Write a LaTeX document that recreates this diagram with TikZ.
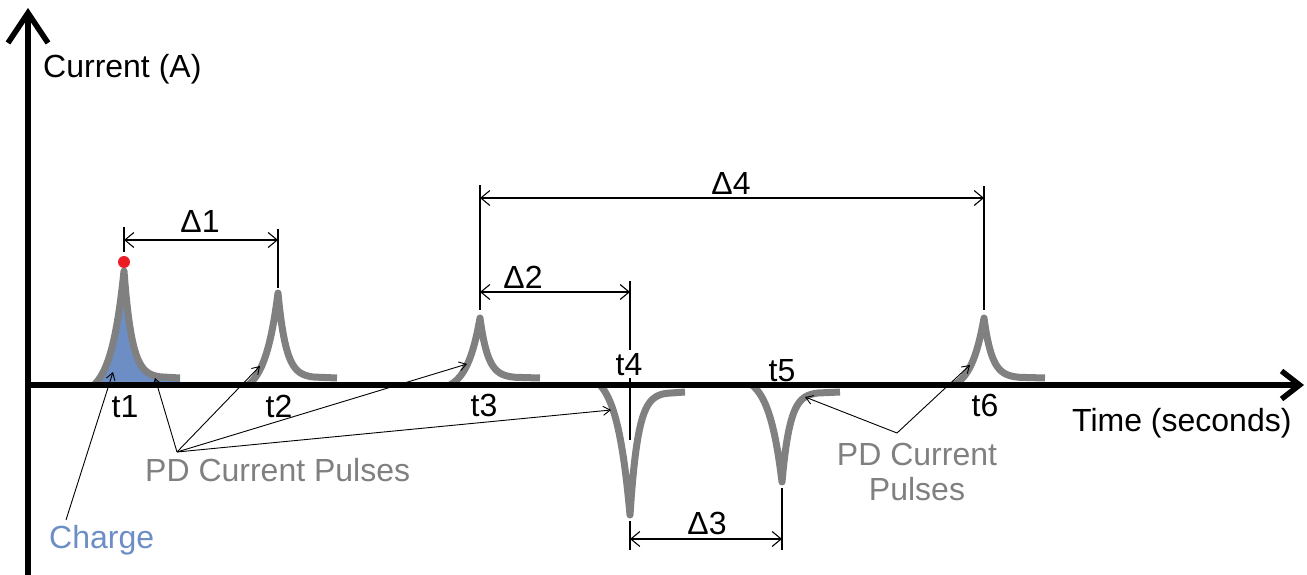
\documentclass[tikz,border=0pt]{standalone}
\usepackage{fontspec}
\setmainfont{Liberation Sans}
\usetikzlibrary{arrows.meta}

\definecolor{pulsegray}{RGB}{128,128,128}
\definecolor{labelgray}{RGB}{128,128,128}
\definecolor{chargeblue}{RGB}{108,142,196}
\definecolor{peakred}{RGB}{236,28,36}

% One current pulse on the time axis (baseline y = 385):
% #1 = time position, #2 = height, #3 = +1 up / -1 down, #4 = tail length
\newcommand\pulsepath[4]{%
  plot[domain=-30:0,samples=41,smooth] ({#1+\x},{385-(#3)*(#2)*(exp(\x/13)-0.0995)/0.9005})
  -- plot[domain=0:36,samples=41,smooth] ({#1+\x},{385-(#3)*(7+((#2)-7)*exp(-\x/8))})
  -- ({#1+#4},{385-(#3)*7})}

\tikzset{
  lbl/.style={inner sep=0pt, font=\fontsize{32}{38}\selectfont},
  graylbl/.style={lbl, text=labelgray},
  pulse/.style={draw=pulsegray, line width=7pt, line join=round, line cap=butt},
  axisline/.style={draw=black, line width=5.5pt},
  extline/.style={draw=black, line width=1.1pt},
  dimline/.style={draw=black, line width=1.1pt,
    {Straight Barb[length=9pt,width=15pt]}-{Straight Barb[length=9pt,width=15pt]}},
  pointer/.style={draw=black, line width=0.9pt, -{Straight Barb[length=7pt,width=9pt]}},
}

\begin{document}
\begin{tikzpicture}[x=1pt,y=-1pt]
\useasboundingbox (0,0) rectangle (1307,575);

% ---- charge area under the first pulse
\fill[chargeblue] \pulsepath{124}{114}{1}{56} -- (180,385) -- (94,385) -- cycle;

% ---- PD current pulses
\path[pulse] \pulsepath{124}{114}{1}{56};
\path[pulse] \pulsepath{278}{92}{1}{59};
\path[pulse] \pulsepath{480}{67}{1}{60};
\path[pulse] \pulsepath{630}{130}{-1}{55};
\path[pulse] \pulsepath{782}{97}{-1}{58};
\path[pulse] \pulsepath{984}{67}{1}{61};

% ---- dimension marks
\coordinate (d1a) at (124,240);  \coordinate (d1b) at (278,240);
\coordinate (d2a) at (480,292);  \coordinate (d2b) at (630,292);
\coordinate (d3a) at (630,539);  \coordinate (d3b) at (782,539);
\coordinate (d4a) at (480,198);  \coordinate (d4b) at (984,198);

\draw[extline] (124,227) -- (124,252);
\draw[extline] (278,229) -- (278,288);
\draw[extline] (480,185) -- (480,310);
\draw[extline] (984,186) -- (984,310);
\draw[extline] (630,281) -- (630,440);
\draw[extline] (630,521) -- (630,550);
\draw[extline] (782,488) -- (782,550);

\draw[dimline] (d1a) -- (d1b);
\draw[dimline] (d2a) -- (d2b);
\draw[dimline] (d3a) -- (d3b);
\draw[dimline] (d4a) -- (d4b);

\node[lbl, anchor=base] (D1) at (200,233) {Δ1};
\node[lbl, anchor=base] (D2) at (523,288) {Δ2};
\node[lbl, anchor=base] (D3) at (707,534) {Δ3};
\node[lbl, anchor=base] (D4) at (731,194) {Δ4};

% ---- axes
\coordinate (ybot) at (28,575);
\coordinate (ytop) at (28,8);
\coordinate (xl) at (28,385);
\coordinate (xr) at (1304,385);
\draw[axisline, -{Straight Barb[length=30pt,width=40pt]}] (ybot) -- (ytop);
\draw[axisline, -{Straight Barb[length=18pt,width=28pt]}] (xl) -- (xr);

\node[lbl, anchor=base west] (ylab) at (43,78) {Current (A)};
\node[lbl, anchor=base west] (xlab) at (1072,431) {Time (seconds)};

% ---- peak marker
\node[circle, fill=peakred, inner sep=0pt, minimum size=12pt] (peak) at (124,262) {};

% ---- time labels
\node[lbl, anchor=base] (t1) at (125,417) {t1};
\node[lbl, anchor=base] (t2) at (279,417) {t2};
\node[lbl, anchor=base] (t3) at (484,416) {t3};
\node[lbl, anchor=base, fill=white, inner ysep=3pt, inner xsep=1pt] (t4) at (629,375) {t4};
\node[lbl, anchor=base] (t5) at (782,381) {t5};
\node[lbl, anchor=base] (t6) at (985,416) {t6};

% ---- callouts
\node[graylbl, anchor=base west] (pdl) at (145,481) {PD Current Pulses};
\node[graylbl, anchor=base, align=center] (pdr) at (917,500) {PD Current\\[-3pt]Pulses};
\node[lbl, anchor=base west, text=chargeblue] (charge) at (49,548) {Charge};

\coordinate (hubL) at (177,452);
\coordinate (hubR) at (897,433);
\coordinate (chargeEnd) at (66,520);

\coordinate (a1) at (155,378);
\coordinate (a2) at (260,366);
\coordinate (a3) at (467,364);
\coordinate (a4) at (611,410);
\coordinate (a5) at (805,397);
\coordinate (a6) at (970,365);
\coordinate (ac) at (113,372);

\draw[pointer] (hubL) -- (a1);
\draw[pointer] (hubL) -- (a2);
\draw[pointer] (hubL) -- (a3);
\draw[pointer] (hubL) -- (a4);
\draw[pointer] (hubR) -- (a5);
\draw[pointer] (hubR) -- (a6);
\draw[pointer] (chargeEnd) -- (ac);
\end{tikzpicture}
\end{document}
